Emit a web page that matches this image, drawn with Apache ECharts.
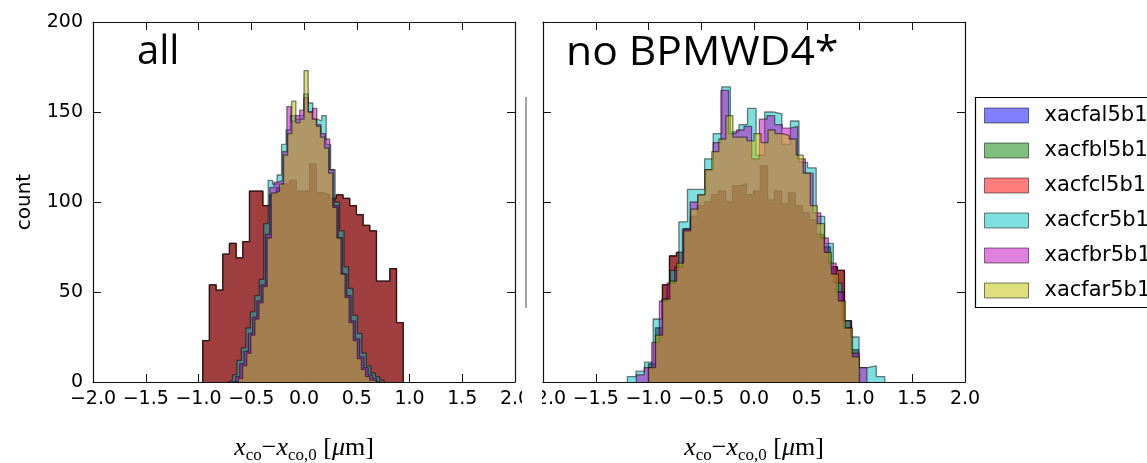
<!DOCTYPE html>
<html>
<head>
<meta charset="utf-8">
<script src="https://cdn.jsdelivr.net/npm/echarts@6/dist/echarts.min.js"></script>
<style>
  html, body { margin: 0; padding: 0; background: #ffffff; }
  #chart { width: 1147px; height: 463px; }
</style>
</head>
<body>
<div id="chart"></div>
<script>
// ---- data ----------------------------------------------------------------
const seriesNames = ['xacfal5b1', 'xacfbl5b1', 'xacfcl5b1', 'xacfcr5b1', 'xacfbr5b1', 'xacfar5b1'];
const xTicks = [-2, -1.5, -1, -0.5, 0, 0.5, 1, 1.5, 2];
const yTicks = [0, 50, 100, 150, 200];

// Panel "all": each histogram is a [lo, hi] range split into equal bins
const allOuterRange = [-0.96, 0.94];          // xacfal5b1, xacfbl5b1, xacfcl5b1
const allOuterCounts = [23, 54, 51, 71, 77, 69, 78, 106, 106, 98, 104, 108, 110, 112, 106,
                        106, 121, 105, 104, 102, 104, 102, 98, 93, 87, 84, 56, 56, 63, 33];
const allRangeCR = [-0.72, 0.76];
const allCountsCR = [1, 4, 12, 19, 30, 39, 48, 57, 88, 112, 110, 115, 132, 140, 148, 146, 148, 160,
                     155, 146, 145, 148, 132, 118, 100, 84, 64, 52, 37, 27, 16, 9, 5, 3, 1];
const allRangeBR = [-0.69, 0.73];
const allCountsBR = [0, 3, 10, 17, 27, 36, 45, 54, 82, 108, 111, 112, 128, 153, 145, 148, 151, 158,
                     150, 152, 143, 138, 135, 118, 98, 80, 60, 48, 34, 24, 14, 8, 4, 2, 0];
const allRangeAR = [-0.66, 0.70];
const allCountsAR = [0, 2, 9, 16, 26, 35, 44, 53, 80, 105, 106, 110, 126, 138, 156, 144, 146, 173,
                     150, 146, 142, 136, 130, 116, 97, 80, 60, 47, 33, 23, 13, 7, 3, 1, 0];

// Panel "no BPMWD4*"
const noOuterRange = [-1.0, 0.99];            // xacfal5b1, xacfbl5b1, xacfcl5b1
const noOuterCounts = [10, 30, 54, 70, 72, 85, 92, 98, 100, 104, 106, 100, 109, 110, 104,
                       106, 120, 101, 106, 99, 105, 98, 94, 90, 82, 75, 64, 62, 34, 18];
const noRangeCR = [-1.2, 1.24];
const noCountsCR = [3, 6, 11, 35, 46, 62, 89, 107, 107, 124, 138, 164, 139, 143, 152,
                    126, 150, 149, 132, 145, 122, 119, 92, 77, 55, 34, 25, 8, 9, 3];
const noRangeBR = [-1.115, 1.07];
const noCountsBR = [4, 8, 22, 45, 55, 64, 85, 100, 104, 118, 133, 162, 138, 140, 142,
                    124, 146, 148, 143, 141, 142, 124, 116, 94, 80, 66, 50, 30, 16, 8];
const noRangeAR = [-1.0, 1.0];
const noCountsAR = [8, 26, 46, 56, 66, 84, 96, 104, 118, 128, 135, 148, 136, 136, 134,
                    138, 133, 140, 138, 137, 135, 126, 116, 98, 88, 72, 60, 45, 30, 14];

// ---- styling -------------------------------------------------------------
const fills = ['rgba(0,0,255,0.5)', 'rgba(0,128,0,0.5)', 'rgba(255,0,0,0.5)',
               'rgba(0,191,191,0.5)', 'rgba(191,0,191,0.5)', 'rgba(191,191,0,0.5)'];
const edge = 'rgba(0,0,0,0.5)';
const TICK_FONT = 'DejaVu Sans';

// step outline of a histogram: closed at zero on both ends
function stepPoints(range, counts) {
  const w = (range[1] - range[0]) / counts.length;
  const pts = [[range[0], 0]];
  counts.forEach((c, i) => pts.push([range[0] + i * w, c]));
  pts.push([range[1], 0]);
  return pts;
}

const panels = [
  [[allOuterRange, allOuterCounts], [allOuterRange, allOuterCounts], [allOuterRange, allOuterCounts],
   [allRangeCR, allCountsCR], [allRangeBR, allCountsBR], [allRangeAR, allCountsAR]],
  [[noOuterRange, noOuterCounts], [noOuterRange, noOuterCounts], [noOuterRange, noOuterCounts],
   [noRangeCR, noCountsCR], [noRangeBR, noCountsBR], [noRangeAR, noCountsAR]]
];

// each histogram gets its own z so fill and edge are layered together, in order
const series = [];
panels.forEach((hists, p) => {
  hists.forEach(([range, counts], k) => {
    series.push({
      type: 'line',
      name: seriesNames[k],
      xAxisIndex: p * 2,
      yAxisIndex: p * 2,
      z: 10 + k,
      data: stepPoints(range, counts),
      step: 'end',
      symbol: 'none',
      showSymbol: false,
      silent: true,
      itemStyle: { color: fills[k] },
      lineStyle: { color: edge, width: 1.3 },
      areaStyle: { color: fills[k], opacity: 1, origin: 'start' }
    });
  });
});

function fmtTick(v) {
  const s = Math.abs(v).toFixed(1);
  return v < 0 ? '\u2212' + s : s;
}

const xNameRich = {
  i: { fontFamily: 'Liberation Serif', fontStyle: 'italic', fontSize: 26, color: '#000' },
  o: { fontFamily: 'Liberation Serif', fontSize: 26, color: '#000' },
  s: { fontFamily: 'Liberation Serif', fontSize: 17, color: '#000', padding: [14, 0, 0, 0] }
};
const xName = '{i|x}{s|co}{o|\u2212}{i|x}{s|co,0}{o| [}{i|\u03bc}{o|m]}';

const AXIS_LINE = { color: '#111', width: 1.2 };

function xAxisPair(grid) {
  const common = {
    gridIndex: grid, type: 'value', min: -2, max: 2, interval: 0.5,
    splitLine: { show: false },
    axisLine: { show: true, onZero: false, lineStyle: AXIS_LINE },
    axisTick: { show: true, inside: true, length: 8, customValues: xTicks, lineStyle: { color: '#111', width: 1 } }
  };
  return [
    Object.assign({}, common, {
      position: 'bottom',
      axisLabel: {
        show: true, customValues: xTicks, formatter: fmtTick, margin: 8,
        fontFamily: TICK_FONT, fontSize: 19, color: '#000',
        showMinLabel: true, showMaxLabel: true, hideOverlap: false
      },
      name: xName, nameLocation: 'middle', nameGap: 51,
      nameTextStyle: { rich: xNameRich }
    }),
    Object.assign({}, common, { position: 'top', axisLabel: { show: false } })
  ];
}

function yAxisPair(grid, labelled) {
  const common = {
    gridIndex: grid, type: 'value', min: 0, max: 200, interval: 50,
    splitLine: { show: false },
    axisLine: { show: true, onZero: false, lineStyle: AXIS_LINE },
    axisTick: { show: true, inside: true, length: 8, customValues: yTicks, lineStyle: { color: '#111', width: 1 } }
  };
  const left = Object.assign({}, common, {
    position: 'left',
    axisLabel: labelled ? {
      show: true, customValues: yTicks, margin: 10, fontFamily: TICK_FONT, fontSize: 19, color: '#000',
      showMinLabel: true, showMaxLabel: true
    } : { show: false }
  });
  if (labelled) {
    Object.assign(left, {
      name: 'count', nameLocation: 'middle', nameRotate: 90, nameGap: 58,
      nameTextStyle: { fontFamily: TICK_FONT, fontSize: 20, color: '#000' }
    });
  }
  return [left, Object.assign({}, common, { position: 'right', axisLabel: { show: false } })];
}

const option = {
  backgroundColor: '#ffffff',
  animation: false,
  grid: [
    { left: 93, top: 22, width: 422, height: 360, outerBoundsMode: 'none', containLabel: false },
    { left: 543, top: 22, width: 422, height: 360, outerBoundsMode: 'none', containLabel: false }
  ],
  xAxis: [...xAxisPair(0), ...xAxisPair(1)],
  yAxis: [...yAxisPair(0, true), ...yAxisPair(1, false)],
  legend: {
    orient: 'vertical',
    left: 975, top: 97,
    data: seriesNames.map((n, k) => ({
      name: n, icon: 'rect',
      itemStyle: { color: fills[k], borderColor: edge, borderWidth: 1 }
    })),
    itemWidth: 44, itemHeight: 15, itemGap: 14,
    padding: [8, 0, 13, 9],
    borderWidth: 0,
    selectedMode: false,
    textStyle: { fontFamily: TICK_FONT, fontSize: 21, color: '#000', padding: [0, 0, 0, 11] }
  },
  series: series,
  graphic: [
    // legend frame, running past the right edge
    { type: 'rect', shape: { x: 975.5, y: 97.5, width: 220, height: 210 },
      style: { fill: 'none', stroke: '#000', lineWidth: 1.2 }, z: 100 },
    // clip the neighbouring tick labels where the two panels meet
    { type: 'rect', shape: { x: 522, y: 384, width: 20, height: 30 }, style: { fill: '#ffffff' }, z: 100 },
    // divider between panels
    { type: 'line', shape: { x1: 526, y1: 97, x2: 526, y2: 308 }, style: { stroke: '#444444', lineWidth: 1 }, z: 100 },
    { type: 'text', x: 137, y: 53, z: 100,
      style: { text: 'all', font: '40px "Open Sans"', fill: '#000', verticalAlign: 'middle' } },
    { type: 'text', x: 566, y: 54, z: 100, scaleX: 1.065,
      style: { text: 'no BPMWD4*', font: '40px "Open Sans"', fill: '#000', verticalAlign: 'middle' } }
  ]
};

const chart = echarts.init(document.getElementById('chart'), null, { renderer: 'canvas' });
chart.setOption(option);
</script>
</body>
</html>
